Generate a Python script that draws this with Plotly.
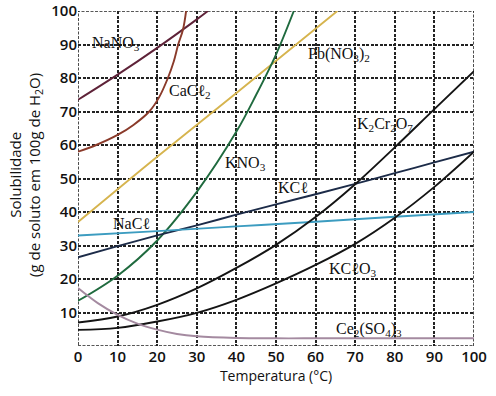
import plotly.graph_objects as go

# ---- data (temperature °C, solubility g/100 g H2O) ----
nano3_x = [0, 10, 20, 30, 32.8]
nano3_y = [73.5, 81, 89, 97.5, 100]

cacl2_x = [0, 4.6, 10, 14, 18, 20.5, 22.7, 24.2, 25.3, 26.5, 27.3]
cacl2_y = [58, 60, 63, 66, 70, 74.3, 80, 85, 90, 94.4, 100]

pbno3_x = [0, 20, 40, 65.5]
pbno3_y = [37, 56.5, 75.5, 100]

kno3_x = [0, 10, 20, 30, 40, 45, 50, 54.5]
kno3_y = [13.5, 21, 31.5, 46, 64, 75, 87, 100]

kcl_x = [0, 10, 20, 30, 40, 50, 60, 70, 80, 90, 100]
kcl_y = [26.5, 29.8, 33, 36, 39.2, 42.3, 45.3, 48.4, 51.6, 54.8, 58]

nacl_x = [0, 20, 40, 60, 80, 100]
nacl_y = [33, 34.3, 35.7, 37.1, 38.6, 40]

k2cr2o7_x = [0, 10, 20, 30, 40, 50, 60, 70, 80, 90, 100]
k2cr2o7_y = [7, 8.8, 12.3, 17.2, 23.3, 30.2, 38.5, 48.3, 59.3, 70.7, 82]

kclo3_x = [0, 10, 20, 30, 40, 50, 60, 70, 80, 90, 100]
kclo3_y = [4.8, 5.4, 7.3, 9.9, 13.8, 18.7, 24.2, 30.5, 38.3, 47.5, 58]

ce2so4_x = [0, 5, 10, 15, 20, 25, 30, 40, 50, 60, 70, 80, 90, 100]
ce2so4_y = [17.3, 12.8, 9.3, 6.7, 4.9, 3.6, 2.9, 2.4, 2.3, 2.3, 2.3, 2.3, 2.3, 2.3]

x_ticks = [0, 10, 20, 30, 40, 50, 60, 70, 80, 90, 100]
y_ticks = [10, 20, 30, 40, 50, 60, 70, 80, 90, 100]
y_tick_text = ["10", "20", "30", "40", "50", "60", "70", "80", "90", "100"]

labels = [
    ("NaNO<sub>3</sub>", 9.6, 90.4),
    ("CaC\u2113<sub>2</sub>", 28.3, 76),
    ("Pb(NO<sub>3</sub>)<sub>2</sub>", 66, 87),
    ("K<sub>2</sub>Cr<sub>2</sub>O<sub>7</sub>", 77.5, 66),
    ("KNO<sub>3</sub>", 42.2, 54.6),
    ("KC\u2113", 54.3, 47.2),
    ("NaC\u2113", 13.4, 36.7),
    ("KC\u2113O<sub>3</sub>", 69.4, 22.7),
    ("Ce<sub>2</sub>(SO<sub>4</sub>)<sub>3</sub>", 73.5, 5),
]

series = [
    (nano3_x, nano3_y, "#5e2238"),
    (cacl2_x, cacl2_y, "#8a3a2a"),
    (pbno3_x, pbno3_y, "#d6b44e"),
    (kno3_x, kno3_y, "#1f6a3e"),
    (kcl_x, kcl_y, "#1c2b48"),
    (nacl_x, nacl_y, "#3c9cc0"),
    (k2cr2o7_x, k2cr2o7_y, "#141414"),
    (kclo3_x, kclo3_y, "#141414"),
    (ce2so4_x, ce2so4_y, "#a48aa0"),
]

fig = go.Figure()
for xs, ys, col in series:
    fig.add_trace(go.Scatter(x=xs, y=ys, mode="lines",
                             line=dict(color=col, width=1.9, shape="spline", smoothing=1.0),
                             showlegend=False, hoverinfo="skip"))

for txt, x, y in labels:
    fig.add_annotation(x=x, y=y, text=txt, showarrow=False,
                       font=dict(family="Liberation Serif", size=16, color="#111"))

# y-axis title (two lines)
fig.add_annotation(xref="paper", yref="paper", x=-0.132, y=0.51,
                   text="Solubilidade<br>(g de soluto em 100g de H<sub>2</sub>O)",
                   textangle=-90, showarrow=False, xanchor="center", yanchor="middle",
                   font=dict(family="Open Sans", size=15, color="#111"))

# dashed border
fig.add_shape(type="rect", xref="x", yref="y", x0=0, x1=100, y0=0, y1=100,
              line=dict(color="#222", width=1.6, dash="3px,1.5px"), layer="below")

tick_font = dict(family="Open Sans", size=15, color="#111", weight=600)
fig.update_layout(
    width=496, height=396,
    margin=dict(l=78, r=22, t=11, b=50),
    paper_bgcolor="white", plot_bgcolor="white",
    font=dict(family="Open Sans", color="#111"),
    xaxis=dict(range=[0, 100], tickvals=x_ticks, showgrid=True, automargin=False,
               gridcolor="#222", griddash="3px,1.5px", gridwidth=1.5,
               zeroline=False, ticks="", tickfont=tick_font,
               title=dict(text="Temperatura (°C)", font=dict(size=14, family="Open Sans"), standoff=0)),
    yaxis=dict(range=[0, 100], tickvals=y_ticks, ticktext=y_tick_text, showgrid=True, automargin=False,
               gridcolor="#222", griddash="3px,1.5px", gridwidth=1.5,
               zeroline=False, ticks="", tickfont=tick_font),
)

fig.write_html("out.html", config={"displayModeBar": False},
               post_script="document.body.style.margin='0';document.body.style.overflow='hidden';")
